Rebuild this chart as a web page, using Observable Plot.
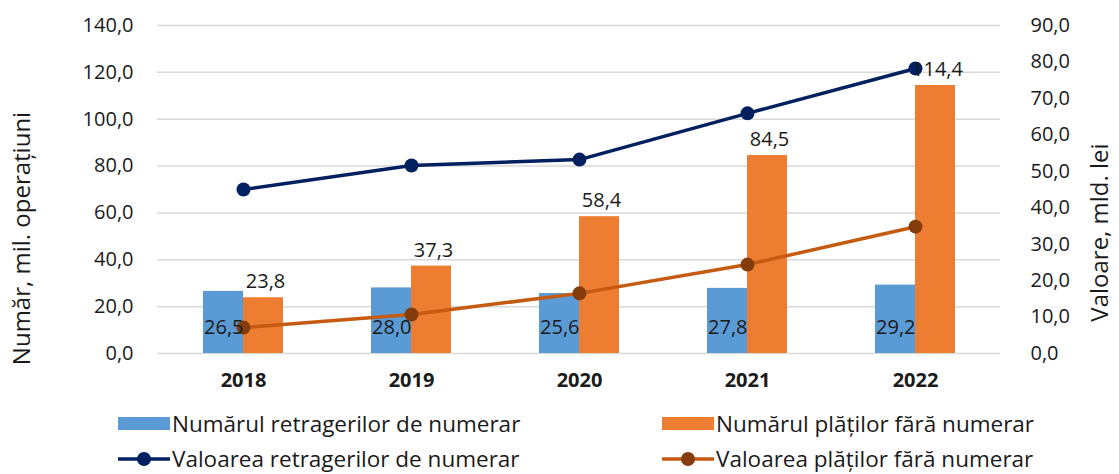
<!DOCTYPE html>
<html>
<head>
<meta charset="utf-8">
<script src="https://cdn.jsdelivr.net/npm/d3@7"></script>
<script src="https://cdn.jsdelivr.net/npm/@observablehq/plot@0.6"></script>
<style>
  body { margin: 0; background: #fff; font-family: "Open Sans", sans-serif; overflow: hidden; }
  #chart { width: 1119px; height: 474px; position: relative; }
  .legend { position: relative; height: 74px; font-size: 22.5px; line-height: 26px; color: #1a1a1a; }
  .item { position: absolute; display: flex; align-items: center; height: 26px; white-space: nowrap; }
  .item svg { display: block; margin-right: 2px; }
</style>
</head>
<body>
<div id="chart"></div>
<script>
const years = ["2018", "2019", "2020", "2021", "2022"];
const cashWithdrawalsCount = [26.5, 28.0, 25.6, 27.8, 29.2];
const cashlessPaymentsCount = [23.8, 37.3, 58.4, 84.5, 114.4];
const cashWithdrawalsValue = [45.0, 51.6, 53.2, 65.9, 78.2];
const cashlessPaymentsValue = [7.1, 10.7, 16.5, 24.4, 34.8];
const leftTicks = [0, 20, 40, 60, 80, 100, 120, 140];
const rightTicks = [0, 10, 20, 30, 40, 50, 60, 70, 80, 90];
const seriesNames = [
  "Numărul retragerilor de numerar",
  "Numărul plăților fără numerar",
  "Valoarea retragerilor de numerar",
  "Valoarea plăților fără numerar"
];
const leftTitle = "Număr, mil. operațiuni";
const rightTitle = "Valoare, mld. lei";

const k = 140 / 90; // right axis -> left axis scale factor
const fmt = v => (Math.round(v * 10) / 10).toFixed(1).replace(".", ",");

const data = years.map((year, i) => ({
  year,
  cwc: cashWithdrawalsCount[i],
  cpc: cashlessPaymentsCount[i],
  cwv: cashWithdrawalsValue[i] * k,
  cpv: cashlessPaymentsValue[i] * k
}));

const BLUE = "#5B9BD5", ORANGE = "#ED7D31", NAVY = "#002060", RUST = "#C55A11", RUSTDOT = "#843C0C";
const TXT = "#1a1a1a";

const plot = Plot.plot({
  width: 1119,
  height: 400,
  marginLeft: 157,
  marginRight: 119,
  marginTop: 25,
  marginBottom: 47,
  style: { fontFamily: "Open Sans, sans-serif", fontSize: "20px", color: TXT, background: "#fff" },
  x: { type: "band", domain: years, paddingInner: 0.525, paddingOuter: 0.2625 },
  y: { domain: [0, 140] },
  marks: [
    Plot.ruleY(leftTicks, { stroke: "#d9d9d9", strokeWidth: 1.5 }),
    Plot.barY(data, { x: "year", y: "cwc", fill: BLUE, insetRight: 40 }),
    Plot.barY(data, { x: "year", y: "cpc", fill: ORANGE, insetLeft: 40 }),
    Plot.line(data, { x: "year", y: "cwv", stroke: NAVY, strokeWidth: 3.5 }),
    Plot.dot(data, { x: "year", y: "cwv", r: 7, fill: NAVY }),
    Plot.line(data, { x: "year", y: "cpv", stroke: RUST, strokeWidth: 3.5 }),
    Plot.dot(data, { x: "year", y: "cpv", r: 7, fill: RUSTDOT }),
    Plot.text(data, { x: "year", y: () => 0, text: d => fmt(d.cwc), textAnchor: "end", dy: -26, fontSize: 20, fill: TXT }),
    Plot.text(data, { x: "year", y: "cpc", text: d => fmt(d.cpc), dx: 22, dy: -16, fontSize: 20, fill: TXT }),
    Plot.axisY(leftTicks, { anchor: "left", tickSize: 0, tickPadding: 24, tickFormat: fmt, fontSize: 20, label: null }),
    Plot.axisY(rightTicks.map(v => v * k), { anchor: "right", tickSize: 0, tickPadding: 30, tickFormat: d => fmt(d / k), fontSize: 20, label: null }),
    Plot.axisX({ tickSize: 0, tickPadding: 19, fontWeight: "bold", fontSize: 20, label: null }),
    Plot.text([leftTitle], { frameAnchor: "left", textAnchor: "middle", rotate: -90, dx: -135, dy: 49, fontSize: 24, fill: TXT }),
    Plot.text([rightTitle], { frameAnchor: "right", textAnchor: "middle", rotate: -90, dx: 100, dy: 43, fontSize: 24, fill: TXT })
  ]
});

const chart = document.getElementById("chart");
chart.appendChild(plot);

const legend = document.createElement("div");
legend.className = "legend";
const items = [
  { name: seriesNames[0], type: "rect", color: BLUE, left: 118, top: 11 },
  { name: seriesNames[1], type: "rect", color: ORANGE, left: 662, top: 11 },
  { name: seriesNames[2], type: "line", color: NAVY, dot: NAVY, left: 118, top: 46 },
  { name: seriesNames[3], type: "line", color: RUST, dot: RUSTDOT, left: 662, top: 46 }
];
for (const it of items) {
  const div = document.createElement("div");
  div.className = "item";
  div.style.left = it.left + "px";
  div.style.top = it.top + "px";
  const sw = it.type === "rect"
    ? `<svg width="52" height="16"><rect x="0" y="1" width="52" height="13" fill="${it.color}"/></svg>`
    : `<svg width="52" height="16"><line x1="0" x2="52" y1="8" y2="8" stroke="${it.color}" stroke-width="3.5"/><circle cx="26" cy="8" r="7" fill="${it.dot}"/></svg>`;
  div.innerHTML = sw + `<span>${it.name}</span>`;
  legend.appendChild(div);
}
chart.appendChild(legend);
</script>
</body>
</html>
